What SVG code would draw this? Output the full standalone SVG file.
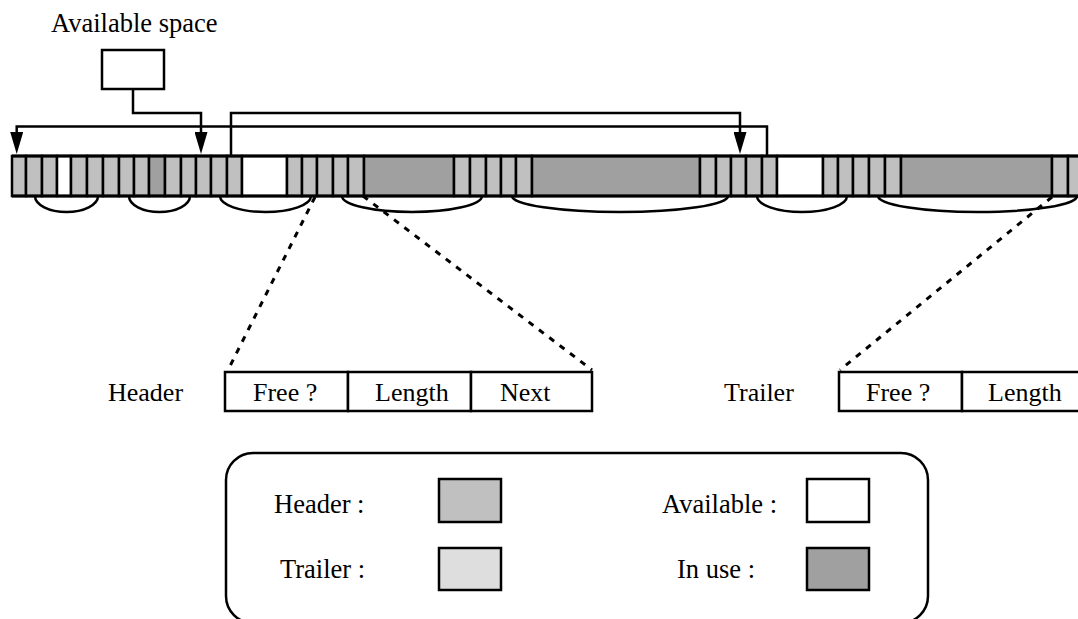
<svg xmlns="http://www.w3.org/2000/svg" width="1078" height="619" viewBox="0 0 1078 619">
<defs>
<style>
text{font-family:"Liberation Serif","Times New Roman",serif;font-size:26px;fill:#000}
.lg{font-size:26.5px}
.c{stroke:#000;stroke-width:2.5}
.h{fill:#c0c0c0}
.t{fill:#dedede}
.w{fill:#fff}
.u{fill:#a0a0a0}
.ln{fill:none;stroke:#000;stroke-width:2.5}
.arc{fill:none;stroke:#000;stroke-width:2.5}
.dash{fill:none;stroke:#000;stroke-width:3;stroke-dasharray:6,7}
.box{fill:#fff;stroke:#000;stroke-width:2.5}
</style>
<marker id="arr" markerUnits="userSpaceOnUse" markerWidth="22" markerHeight="13" refX="0" refY="6.5" orient="auto">
<path d="M0,0 L22,6.5 L0,13 z" fill="#000"/>
</marker>
</defs>

<g id="available-space">
<text class="lg" x="51" y="32">Available space</text>
<rect class="box" x="102" y="50" width="62" height="39"/>
</g>

<g id="memory">
<g class="c">
<rect class="h" x="12" y="156" width="14" height="40"/>
<rect class="h" x="26" y="156" width="16" height="40"/>
<rect class="h" x="42" y="156" width="15" height="40"/>
<rect class="w" x="57" y="156" width="14" height="40"/>
<rect class="h" x="71" y="156" width="16" height="40"/>
<rect class="h" x="87" y="156" width="16" height="40"/>
<rect class="h" x="103" y="156" width="16" height="40"/>
<rect class="h" x="119" y="156" width="15" height="40"/>
<rect class="h" x="134" y="156" width="15" height="40"/>
<rect class="u" x="149" y="156" width="16" height="40"/>
<rect class="h" x="165" y="156" width="16" height="40"/>
<rect class="h" x="181" y="156" width="15" height="40"/>
<rect class="h" x="196" y="156" width="15" height="40"/>
<rect class="h" x="211" y="156" width="16" height="40"/>
<rect class="h" x="227" y="156" width="15" height="40"/>
<rect class="w" x="242" y="156" width="45" height="40"/>
<rect class="h" x="287" y="156" width="15" height="40"/>
<rect class="h" x="302" y="156" width="15" height="40"/>
<rect class="h" x="317" y="156" width="16" height="40"/>
<rect class="h" x="333" y="156" width="15" height="40"/>
<rect class="h" x="348" y="156" width="16" height="40"/>
<rect class="u" x="364" y="156" width="90" height="40"/>
<rect class="h" x="454" y="156" width="16" height="40"/>
<rect class="h" x="470" y="156" width="16" height="40"/>
<rect class="h" x="486" y="156" width="15" height="40"/>
<rect class="h" x="501" y="156" width="15" height="40"/>
<rect class="h" x="516" y="156" width="16" height="40"/>
<rect class="u" x="532" y="156" width="168" height="40"/>
<rect class="h" x="700" y="156" width="16" height="40"/>
<rect class="h" x="716" y="156" width="15" height="40"/>
<rect class="h" x="731" y="156" width="15" height="40"/>
<rect class="h" x="746" y="156" width="16" height="40"/>
<rect class="h" x="762" y="156" width="15" height="40"/>
<rect class="w" x="777" y="156" width="46" height="40"/>
<rect class="h" x="823" y="156" width="15" height="40"/>
<rect class="h" x="838" y="156" width="15" height="40"/>
<rect class="h" x="853" y="156" width="16" height="40"/>
<rect class="h" x="869" y="156" width="16" height="40"/>
<rect class="h" x="885" y="156" width="16" height="40"/>
<rect class="u" x="901" y="156" width="151" height="40"/>
<rect class="h" x="1052" y="156" width="16" height="40"/>
<rect class="h" x="1068" y="156" width="16" height="40"/>
</g>
<path d="M12,156 H1090 M12,196 H1090" stroke="#000" stroke-width="3" fill="none"/>
<g id="links">
<path class="arc" d="M35,196 A31.5,16 0 0 0 98,196"/>
<path class="arc" d="M129,196 A30.5,16 0 0 0 190,196"/>
<path class="arc" d="M220,196 A45.5,16 0 0 0 311,196"/>
<path class="arc" d="M342,196 A70,16 0 0 0 482,196"/>
<path class="arc" d="M512,196 A108,16 0 0 0 728,196"/>
<path class="arc" d="M757,196 A45,16 0 0 0 847,196"/>
<path class="arc" d="M878,196 A99.5,16 0 0 0 1077,196"/>
</g>
</g>

<g id="connectors">
<path class="ln" d="M133,89 V113 H201 V132" marker-end="url(#arr)"/>
<path class="ln" d="M231,156 V113 H740 V132" marker-end="url(#arr)"/>
<path class="ln" d="M767,156 V126.5 H16.7 V132" marker-end="url(#arr)"/>
<path class="dash" d="M315,197 L228,370"/>
<path class="dash" d="M363,196 L592,370"/>
<path class="dash" d="M1052,197 L840,370"/>
</g>

<g id="header">
<text x="108" y="401">Header</text>
<rect class="box" x="225" y="372" width="123" height="39"/>
<rect class="box" x="348" y="372" width="123" height="39"/>
<rect class="box" x="471" y="372" width="121" height="39"/>
<text x="253" y="401">Free ?</text>
<text x="375" y="401">Length</text>
<text x="500" y="401">Next</text>
</g>

<g id="trailer">
<text x="724" y="401">Trailer</text>
<rect class="box" x="839" y="372" width="123" height="39"/>
<rect class="box" x="962" y="372" width="123" height="39"/>
<text x="866" y="401">Free ?</text>
<text x="988" y="401">Length</text>
</g>

<g id="legend">
<rect x="226" y="453" width="702" height="170" rx="27" ry="27" fill="#fff" stroke="#000" stroke-width="2.5"/>
<text class="lg" x="274" y="513">Header :</text>
<rect class="c h" x="439" y="479" width="62" height="43"/>
<text class="lg" x="280" y="578">Trailer :</text>
<rect class="c t" x="439" y="548" width="62" height="42"/>
<text class="lg" x="662" y="513">Available :</text>
<rect class="c w" x="807" y="479" width="62" height="43"/>
<text class="lg" x="677" y="578">In use :</text>
<rect class="c u" x="807" y="548" width="62" height="42"/>
</g>
</svg>
